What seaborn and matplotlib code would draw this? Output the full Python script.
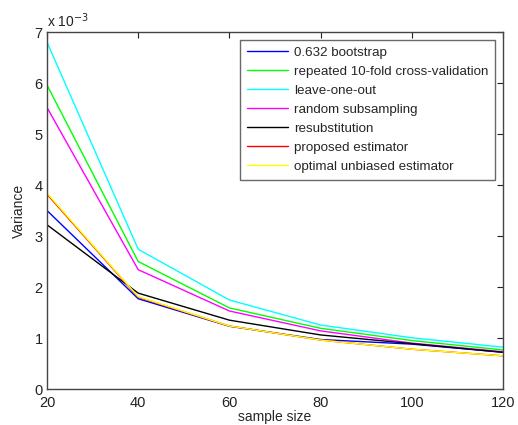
import numpy as np
import pandas as pd
import matplotlib
matplotlib.use("Agg")
import matplotlib.pyplot as plt
import seaborn as sns

sample_size = [20, 40, 60, 80, 100, 120]
bootstrap = [3.50, 1.77, 1.23, 0.97, 0.88, 0.72]
cv10 = [5.96, 2.50, 1.59, 1.19, 0.95, 0.765]
loo = [6.80, 2.74, 1.745, 1.255, 1.005, 0.82]
subsampling = [5.52, 2.34, 1.53, 1.14, 0.90, 0.73]
resub = [3.22, 1.88, 1.35, 1.06, 0.89, 0.72]
proposed = [3.82, 1.80, 1.235, 0.96, 0.78, 0.65]
optimal = [3.84, 1.81, 1.235, 0.96, 0.78, 0.65]

labels = ["0.632 bootstrap", "repeated 10-fold cross-validation", "leave-one-out",
          "random subsampling", "resubstitution", "proposed estimator",
          "optimal unbiased estimator"]
series = [bootstrap, cv10, loo, subsampling, resub, proposed, optimal]
colors = ["#0000ff", "#00ff00", "#00ffff", "#ff00ff", "#000000", "#ff0000", "#ffff00"]

rows = []
for lab, vals in zip(labels, series):
    for x, v in zip(sample_size, vals):
        rows.append({"sample size": x, "Variance": v * 1e-3, "method": lab})
df = pd.DataFrame(rows)

sns.set_style("white")
plt.rcParams["font.family"] = ["Liberation Sans", "DejaVu Sans"]

fig = plt.figure(figsize=(5.18, 4.25), dpi=100)
ax = fig.add_axes([0.0907, 0.0847, 0.8803, 0.8400])
sns.lineplot(data=df, x="sample size", y="Variance", hue="method",
             hue_order=labels, palette=dict(zip(labels, colors)),
             linewidth=1.0, ax=ax, legend=True)

ax.set_xlim(20, 120)
ax.set_ylim(0, 7e-3)
ax.set_xticks([20, 40, 60, 80, 100, 120])
ax.set_yticks(np.arange(0, 8) * 1e-3)
ax.set_yticklabels([str(i) for i in range(8)])
ax.tick_params(direction="in", top=True, right=True, length=4, width=0.8,
               labelsize=10.5, colors="#222222", pad=3)
ax.tick_params(axis="x", pad=5)
for s in ax.spines.values():
    s.set_visible(True)
    s.set_color("#444444")
    s.set_linewidth(1.0)
ax.set_xlabel("sample size", fontsize=10, labelpad=0)
ax.set_ylabel("Variance", fontsize=10, labelpad=6)
ax.text(0.0, 1.005, r"x 10$^{-3}$", transform=ax.transAxes, fontsize=10,
        ha="left", va="bottom", color="#222222")

handles, labs = ax.get_legend_handles_labels()
leg = ax.legend(handles, labs, loc="upper right", fontsize=9.6, frameon=True,
                fancybox=False, edgecolor="#444444", handlelength=3.1,
                handletextpad=0.45, labelspacing=0.5, borderpad=0.5,
                borderaxespad=0.6)
leg.get_frame().set_linewidth(1.0)

fig.savefig("out.png", dpi=100, facecolor="white")
